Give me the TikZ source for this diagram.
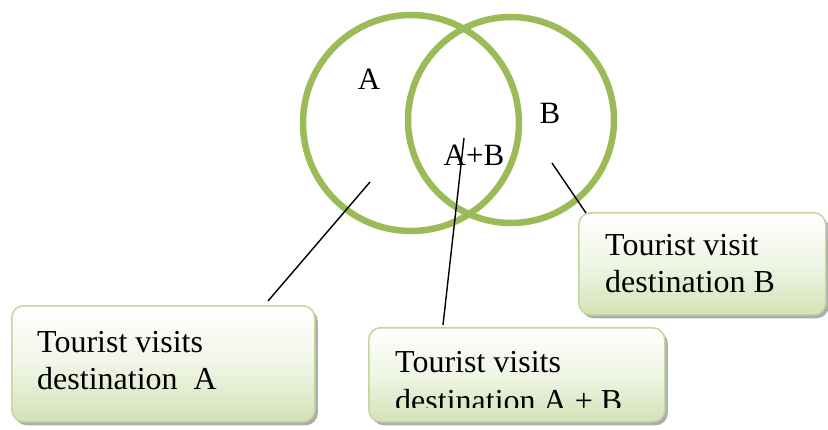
\documentclass[tikz,border=0pt]{standalone}
\usepackage{fontspec}
\setmainfont{Liberation Serif}
\usetikzlibrary{shadows}
\definecolor{vgreen}{HTML}{9BBB59}
\definecolor{bborder}{HTML}{C3D69B}
\definecolor{bfill}{HTML}{D3E2B6}
\tikzset{
  ring/.style={draw=vgreen, line width=6.5pt},
  infobox/.style={draw=bborder, line width=1.5pt, rounded corners=12pt,
    top color=white, bottom color=bfill, middle color=white!65!bfill,
    drop shadow={shadow xshift=3pt, shadow yshift=-3.5pt, fill=black!40, opacity=0.8}},
  lbl/.style={font=\fontsize{31}{37}\selectfont, inner sep=0pt},
  boxtxt/.style={font=\fontsize{32}{38}\selectfont, align=left, inner sep=0pt, anchor=base west},
  conn/.style={draw=black, line width=1.4pt}
}
\begin{document}
\begin{tikzpicture}[x=1pt,y=-1pt]
\useasboundingbox (0,0) rectangle (828,429);
\fill[white] (0,0) rectangle (828,429);
% circles
\node[ring, circle, minimum size=216pt] (cA) at (411,123) {};
\node[ring, circle, minimum size=206pt] (cB) at (511,120) {};
% labels in circles
\node[lbl, anchor=base] (lA) at (369,89) {A};
\node[lbl, anchor=base] (lB) at (550,123) {B};
\node[lbl, anchor=base] (lAB) at (474,165) {A+B};
% boxes
\node[infobox, anchor=north west, minimum width=303pt, minimum height=116pt] (bA) at (11,305) {};
\node[infobox, anchor=north west, minimum width=296pt, minimum height=94pt] (bAB) at (368,327) {};
\node[infobox, anchor=north west, minimum width=247pt, minimum height=102pt] (bB) at (578,212) {};
% box texts
\node[boxtxt] (tA1) at (37,352) {Tourist visits};
\node[boxtxt] (tA2) at (37,389) {destination\ \ A};
\node[boxtxt] (tB1) at (605,255) {Tourist visit};
\node[boxtxt] (tB2) at (605,292) {destination B};
\node[boxtxt] (tAB1) at (395,372) {Tourist visits};
\begin{scope}
\clip (368,330) rectangle (664,407);
\node[boxtxt] (tAB2) at (395,411) {destination A + B};
\end{scope}
% connectors
\coordinate (pA) at (370,182);
\coordinate (pAB) at (464,138);
\coordinate (pB) at (552,163);
\coordinate (eA) at (268,301);
\coordinate (eAB) at (443,325);
\coordinate (eB) at (586,213);
\draw[conn] (pA) -- (eA);
\draw[conn] (pAB) -- (eAB);
\draw[conn] (pB) -- (eB);
\end{tikzpicture}
\end{document}
